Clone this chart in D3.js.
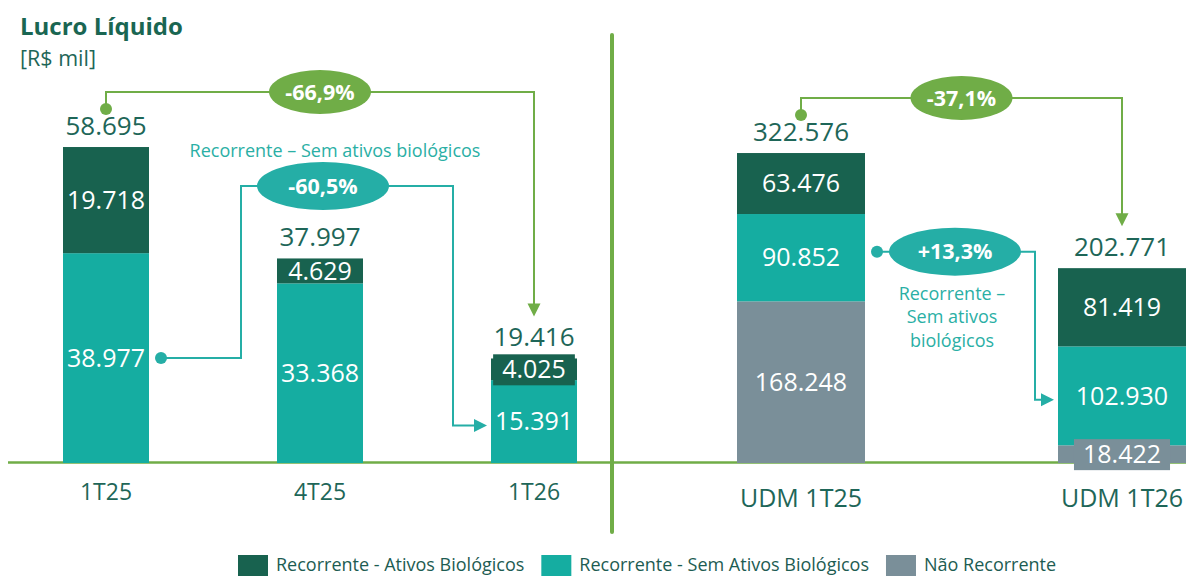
<!DOCTYPE html>
<html>
<head>
<meta charset="utf-8">
<script src="https://cdn.jsdelivr.net/npm/d3@7"></script>
<style>
  body { margin: 0; background: #fff; }
  svg { display: block; }
  text { font-family: "Open Sans", "Noto Sans", sans-serif; }
</style>
</head>
<body>
<svg id="chart" width="1186" height="576"></svg>
<script>
// Lucro Líquido, R$ mil
const quarterCats = ["1T25", "4T25", "1T26"];
const ltmCats = ["UDM 1T25", "UDM 1T26"];
const categories = quarterCats.concat(ltmCats);

const recAtivos    = [19718, 4629, 4025, 63476, 81419];    // Recorrente - Ativos Biológicos
const recSemAtivos = [38977, 33368, 15391, 90852, 102930]; // Recorrente - Sem Ativos Biológicos
const naoRecorrente = [0, 0, 0, 168248, 18422];            // Não Recorrente

const seriesKeys   = ["ra", "rs", "nr"];
const seriesNames  = ["Recorrente - Ativos Biológicos", "Recorrente - Sem Ativos Biológicos", "Não Recorrente"];
const seriesColors = ["#18624f", "#15ada1", "#7a8f99"];

const GREEN = "#70ad47", TEAL_LINE = "#25aea6", TEXT_DARK = "#1e6658", TEXT_TEAL = "#2aafa5";

const svg = d3.select("#chart");
const W = 1186, BASE = 463;

const rows = categories.map((c, i) => ({ cat: c, ra: recAtivos[i], rs: recSemAtivos[i], nr: naoRecorrente[i] }));
const stacked = d3.stack().keys(["nr", "rs", "ra"])(rows);
const colorOf = d3.scaleOrdinal().domain(seriesKeys).range(seriesColors);

// two panels with their own scales
const xQ = d3.scalePoint().domain(quarterCats).range([106, 534]);
const xL = d3.scalePoint().domain(ltmCats).range([801, 1122]);
const yQ = d3.scaleLinear().domain([0, 60000]).range([BASE, BASE - 323]);
const yL = d3.scaleLinear().domain([0, 330000]).range([BASE, BASE - 317.1]);

function geo(cat) {
  const q = quarterCats.includes(cat);
  return q ? { x: xQ(cat), y: yQ, w: 86 } : { x: xL(cat), y: yL, w: 128 };
}
const fmtNum = v => d3.format(",")(v).replace(/,/g, ".");
const fmtPct = (a, b) => {
  const p = (b / a - 1) * 100;
  return (p > 0 ? "+" : "") + p.toFixed(1).replace(".", ",") + "%";
};
const rowOf = cat => rows.find(r => r.cat === cat);
const total = r => r.ra + r.rs + r.nr;
function segment(cat, key) {
  const s = stacked.find(s => s.key === key);
  const d = s[categories.indexOf(cat)];
  const g = geo(cat);
  return { y0: g.y(d[0]), y1: g.y(d[1]), left: g.x - g.w / 2, right: g.x + g.w / 2, x: g.x };
}

// title
svg.append("text").attr("x", 20).attr("y", 35).attr("fill", "#1a6652")
  .attr("font-size", 24).attr("font-weight", 700).text("Lucro Líquido");
svg.append("text").attr("x", 20).attr("y", 66).attr("fill", TEXT_DARK)
  .attr("font-size", 21.5).text("[R$ mil]");

// baseline and panel divider
svg.append("line").attr("x1", 8).attr("x2", W).attr("y1", BASE - 0.5).attr("y2", BASE - 0.5)
  .attr("stroke", GREEN).attr("stroke-width", 2.5);
svg.append("line").attr("x1", 612).attr("x2", 612).attr("y1", 35).attr("y2", 532)
  .attr("stroke", GREEN).attr("stroke-width", 4).attr("stroke-linecap", "round");

// stacked bars
const layers = svg.append("g").selectAll("g").data(stacked).join("g")
  .attr("fill", d => colorOf(d.key));
layers.selectAll("rect").data(d => d.map(p => ({ p, key: d.key }))).join("rect")
  .attr("x", d => geo(d.p.data.cat).x - geo(d.p.data.cat).w / 2)
  .attr("width", d => geo(d.p.data.cat).w)
  .attr("y", d => geo(d.p.data.cat).y(d.p[1]))
  .attr("height", d => geo(d.p.data.cat).y(d.p[0]) - geo(d.p.data.cat).y(d.p[1]));

// segment value labels
const segLabels = svg.append("g");
stacked.forEach(s => {
  s.forEach(p => {
    const v = p[1] - p[0];
    if (v <= 0) return;
    const cat = p.data.cat, g = geo(cat);
    const y0 = g.y(p[0]), y1 = g.y(p[1]), cy = (y0 + y1) / 2;
    const grp = segLabels.append("g");
    const t = grp.append("text").attr("x", g.x).attr("y", cy).attr("dy", "0.35em")
      .attr("text-anchor", "middle").attr("fill", "#fff").attr("font-size", 25).text(fmtNum(v));
    if (y0 - y1 < 24) {
      const tw = t.node().getComputedTextLength() + 18;
      grp.insert("rect", "text").attr("x", g.x - tw / 2).attr("width", tw)
        .attr("y", cy - 15).attr("height", 31).attr("fill", colorOf(s.key));
    }
  });
});

// totals above bars
rows.forEach(r => {
  const g = geo(r.cat);
  svg.append("text").attr("x", g.x).attr("y", g.y(total(r)) - 12).attr("text-anchor", "middle")
    .attr("fill", TEXT_DARK).attr("font-size", 26).text(fmtNum(total(r)));
});

// category labels
rows.forEach(r => {
  const g = geo(r.cat), q = quarterCats.includes(r.cat);
  svg.append("text").attr("x", g.x).attr("y", q ? 500 : 507).attr("text-anchor", "middle")
    .attr("fill", TEXT_DARK).attr("font-size", q ? 23 : 25).text(r.cat);
});

// change annotations
const ann = svg.append("g");
function arrowDown(x, y, c) {
  ann.append("path").attr("d", `M${x - 6.5},${y - 13}L${x + 6.5},${y - 13}L${x},${y}Z`).attr("fill", c);
}
function arrowRight(x, y, c) {
  ann.append("path").attr("d", `M${x - 13},${y - 6.5}L${x - 13},${y + 6.5}L${x},${y}Z`).attr("fill", c);
}
function bubble(cx, cy, rx, ry, fill, label) {
  ann.append("ellipse").attr("cx", cx).attr("cy", cy).attr("rx", rx).attr("ry", ry).attr("fill", fill);
  ann.append("text").attr("x", cx).attr("y", cy).attr("dy", "0.36em").attr("text-anchor", "middle")
    .attr("fill", "#fff").attr("font-size", 21.5).attr("font-weight", 700).text(label);
}

// total change (green): from one total to another
function totalChange(from, to) {
  const gf = geo(from), gt = geo(to);
  const topF = gf.y(total(rowOf(from))), topT = gt.y(total(rowOf(to)));
  const dotY = topF - 38, level = topF - 55, tip = topT - 42;
  ann.append("path").attr("d", `M${gf.x},${dotY}V${level}H${gt.x}V${tip - 10}`)
    .attr("fill", "none").attr("stroke", GREEN).attr("stroke-width", 2);
  ann.append("circle").attr("cx", gf.x).attr("cy", dotY).attr("r", 6).attr("fill", GREEN);
  arrowDown(gt.x, tip, GREEN);
  bubble((gf.x + gt.x) / 2, level, 51, 22, GREEN, fmtPct(total(rowOf(from)), total(rowOf(to))));
}
totalChange("1T25", "1T26");
totalChange("UDM 1T25", "UDM 1T26");

// recurring without biological assets (teal)
function recChange(from, to, opt) {
  const sf = segment(from, "rs"), st = segment(to, "rs");
  const a = rowOf(from).rs, b = rowOf(to).rs;
  const dotX = sf.right + 12, dotY = (sf.y0 + sf.y1) / 2 + opt.dotDy;
  const level = opt.level != null ? opt.level : dotY;
  const dropX = st.left - opt.dropGap;
  const tipY = (st.y0 + st.y1) / 2 + 4, tipX = st.left - 4;
  let d = `M${dotX},${dotY}`;
  if (opt.riseX != null) d += `H${sf.right + opt.riseX}V${level}`;
  d += `H${dropX}V${tipY}H${tipX - 10}`;
  ann.append("path").attr("d", d).attr("fill", "none").attr("stroke", TEAL_LINE).attr("stroke-width", 2);
  ann.append("circle").attr("cx", dotX).attr("cy", dotY).attr("r", 6).attr("fill", TEAL_LINE);
  arrowRight(tipX, tipY, TEAL_LINE);
  const cx = opt.cx;
  bubble(cx, level, 66, 24, TEAL_LINE, fmtPct(a, b));
  const lbl = ann.append("text").attr("text-anchor", "middle").attr("fill", TEXT_TEAL).attr("font-size", 18);
  opt.lines.forEach((ln, i) => {
    lbl.append("tspan").attr("x", cx + opt.labelDx).attr("y", level + opt.labelDy + i * 23.5).text(ln);
  });
}
recChange("1T25", "1T26", {
  dotDy: 0, riseX: 92, level: 186, dropGap: 38, cx: (xQ("1T25") + xQ("1T26")) / 2 + 3,
  lines: ["Recorrente – Sem ativos biológicos"], labelDx: 12, labelDy: -29
});
recChange("UDM 1T25", "UDM 1T26", {
  dotDy: -6, riseX: null, level: null, dropGap: 23, cx: 955,
  lines: ["Recorrente –", "Sem ativos", "biológicos"], labelDx: -3, labelDy: 48
});

// legend
const legend = svg.append("g");
let lx = 238;
seriesKeys.forEach((k, i) => {
  legend.append("rect").attr("x", lx).attr("y", 555).attr("width", 30).attr("height", 21).attr("fill", seriesColors[i]);
  const t = legend.append("text").attr("x", lx + 38).attr("y", 571).attr("fill", "#1d5c52")
    .attr("font-size", 18).text(seriesNames[i]);
  lx += 38 + t.node().getComputedTextLength() + 17;
});
</script>
</body>
</html>
